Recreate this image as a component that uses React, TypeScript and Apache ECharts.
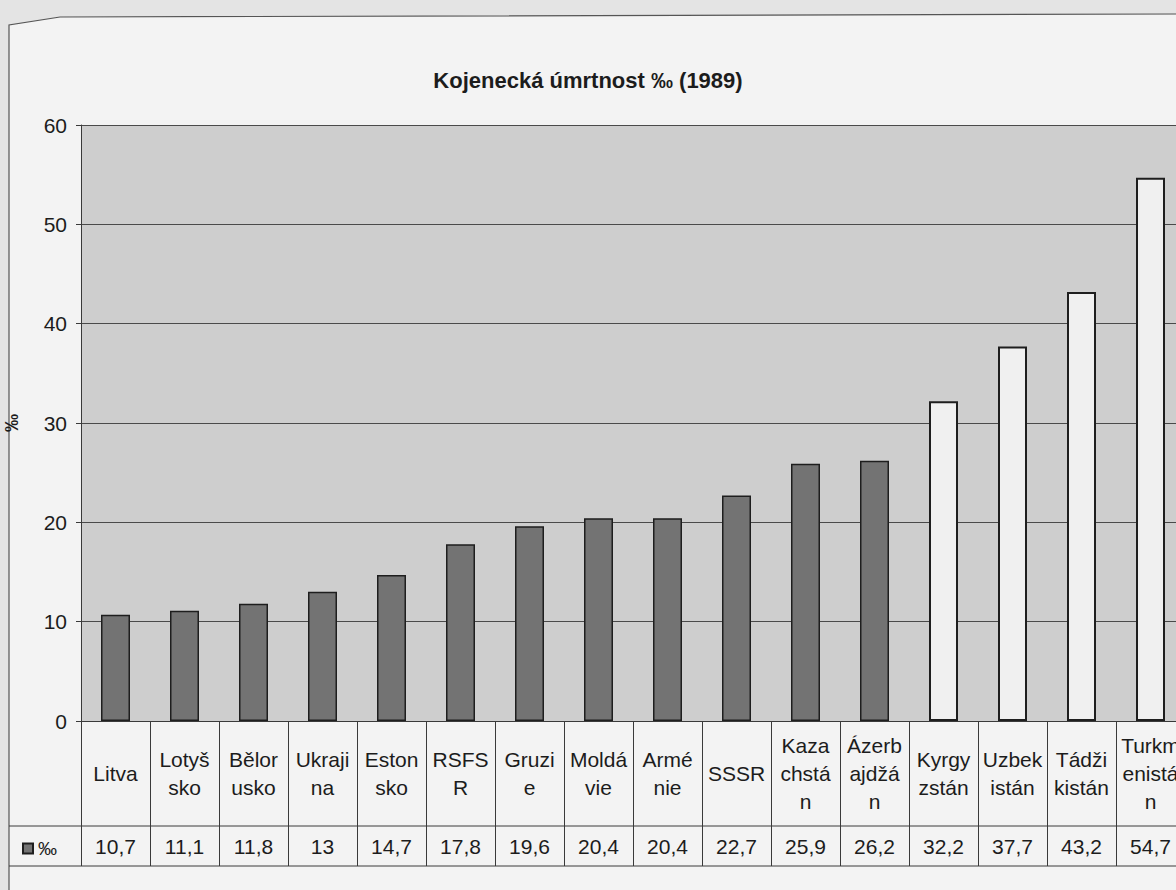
import React, { useEffect, useRef } from "react";
import * as echarts from "echarts";

const chartTitle = "Kojenecká úmrtnost ‰ (1989)";
const seriesName = "‰";
const categories = [
  "Litva", "Lotyšsko", "Bělorusko", "Ukrajina", "Estonsko", "RSFSR", "Gruzie", "Moldávie",
  "Arménie", "SSSR", "Kazachstán", "Ázerbajdžán", "Kyrgyzstán", "Uzbekistán", "Tádžikistán", "Turkmenistán",
];
const categoryLabels = [
  "Litva", "Lotyš\nsko", "Bělor\nusko", "Ukraji\nna", "Eston\nsko", "RSFS\nR", "Gruzi\ne", "Moldá\nvie",
  "Armé\nnie", "SSSR", "Kaza\nchstá\nn", "Ázerb\najdžá\nn", "Kyrgy\nzstán", "Uzbek\nistán", "Tádži\nkistán", "Turkm\nenistá\nn",
];
const values = [10.7, 11.1, 11.8, 13, 14.7, 17.8, 19.6, 20.4, 20.4, 22.7, 25.9, 26.2, 32.2, 37.7, 43.2, 54.7];
const lightBars = ["Kyrgyzstán", "Uzbekistán", "Tádžikistán", "Turkmenistán"];
const yTicks = [0, 10, 20, 30, 40, 50, 60];

const valueLabels = values.map((v) => String(v).replace(".", ","));

const FONT = "'Liberation Sans', Arial, sans-serif";
const TEXT = "#1c1c1c";
const LINE = "#3a3a3a";

export default function App() {
  const ref = useRef<HTMLDivElement>(null);

  useEffect(() => {
    if (!ref.current) return;
    const chart = echarts.init(ref.current, null, { renderer: "svg" });
    const W = 1176;
    const plotTop = 125;
    const plotBottom = 721;
    const rowSplit = 826;
    const tableBottom = 866;
    const gridLeft = 81;
    const gridRight = -9;

    chart.setOption({
      animation: false,
      backgroundColor: "#f3f3f3",
      title: {
        text: chartTitle,
        left: "center",
        top: 64,
        textStyle: { fontFamily: FONT, fontSize: 22, fontWeight: "bold", color: TEXT },
      },
      legend: {
        data: [seriesName],
        left: 17,
        top: 834,
        icon: "rect",
        itemWidth: 10,
        itemHeight: 10,
        itemGap: 6,
        textStyle: { fontFamily: FONT, fontSize: 19, color: TEXT },
      },
      grid: [
        {
          left: gridLeft,
          right: gridRight,
          top: plotTop,
          bottom: 890 - plotBottom,
          outerBoundsMode: "none",
          containLabel: false,
          show: true,
          backgroundColor: "#cecece",
          borderWidth: 0,
        },
        {
          left: gridLeft,
          right: gridRight,
          top: rowSplit,
          bottom: 890 - tableBottom,
          outerBoundsMode: "none",
          containLabel: false,
          show: false,
        },
      ],
      xAxis: [
        {
          type: "category",
          gridIndex: 0,
          data: categories,
          boundaryGap: true,
          axisLine: { show: true, lineStyle: { color: LINE, width: 1 } },
          axisTick: { show: true, length: tableBottom - plotBottom, alignWithLabel: false, lineStyle: { color: LINE, width: 1 } },
          axisLabel: {
            interval: 0,
            margin: 52,
            verticalAlign: "middle",
            lineHeight: 28,
            fontFamily: FONT,
            fontSize: 21,
            color: TEXT,
            formatter: (_v: string, i: number) => categoryLabels[i],
          },
          splitLine: { show: false },
        },
        {
          type: "category",
          gridIndex: 1,
          data: categories,
          position: "bottom",
          boundaryGap: true,
          axisLine: { show: false },
          axisTick: { show: false },
          axisLabel: {
            interval: 0,
            margin: -20,
            verticalAlign: "middle",
            fontFamily: FONT,
            fontSize: 21,
            color: TEXT,
            formatter: (_v: string, i: number) => valueLabels[i],
          },
        },
      ],
      yAxis: [
        {
          type: "value",
          gridIndex: 0,
          min: yTicks[0],
          max: yTicks[yTicks.length - 1],
          interval: 10,
          name: seriesName,
          nameLocation: "middle",
          nameRotate: 90,
          nameGap: 60,
          nameTextStyle: { fontFamily: FONT, fontSize: 18, fontWeight: "bold", color: TEXT },
          axisLine: { show: true, lineStyle: { color: LINE, width: 1 } },
          axisTick: { show: true, length: 5, lineStyle: { color: LINE } },
          axisLabel: { margin: 14, fontFamily: FONT, fontSize: 21, color: TEXT },
          splitLine: { show: true, lineStyle: { color: "#4a4a4a", width: 1 } },
        },
        {
          type: "value",
          gridIndex: 1,
          show: false,
        },
      ],
      series: [
        {
          name: seriesName,
          type: "bar",
          xAxisIndex: 0,
          yAxisIndex: 0,
          barWidth: 29,
          itemStyle: { color: "#737373", borderColor: "#1e1e1e", borderWidth: 1.5 },
          data: values.map((v, i) =>
            lightBars.includes(categories[i])
              ? { value: v, itemStyle: { color: "#f0f0f0", borderColor: "#1e1e1e", borderWidth: 2 } }
              : v
          ),
        },
      ],
      graphic: [
        {
          type: "polygon",
          silent: true,
          z: -1,
          shape: { points: [[0, 0], [W, 0], [W, 14], [60, 17], [9, 25], [9, 890], [0, 890]] },
          style: { fill: "#e4e4e4" },
        },
        {
          type: "polyline",
          silent: true,
          shape: { points: [[9, 890], [9, 25], [60, 17], [W, 14]] },
          style: { stroke: "#555", lineWidth: 1.2, fill: null },
        },
        {
          type: "line",
          silent: true,
          shape: { x1: 9, y1: rowSplit, x2: W, y2: rowSplit },
          style: { stroke: LINE, lineWidth: 1 },
        },
        {
          type: "line",
          silent: true,
          shape: { x1: 9, y1: tableBottom, x2: W, y2: tableBottom },
          style: { stroke: LINE, lineWidth: 1 },
        },
      ],
    });

    return () => chart.dispose();
  }, []);

  return (
    <div
      ref={ref}
      style={{ position: "fixed", left: 0, top: 0, width: 1176, height: 890 }}
    />
  );
}
